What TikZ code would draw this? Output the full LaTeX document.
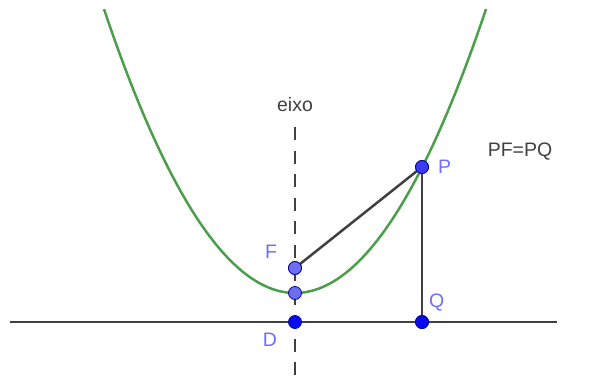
\documentclass[tikz,border=0pt]{standalone}
\usepackage{fontspec}
\setmainfont{Liberation Sans}
\usetikzlibrary{positioning}
\definecolor{parabgreen}{RGB}{76,158,76}
\definecolor{linegrey}{RGB}{64,64,64}
\definecolor{ptdark}{RGB}{10,10,240}
\definecolor{ptlight}{RGB}{110,110,245}
\definecolor{lblblue}{RGB}{110,110,250}

\begin{document}
\begin{tikzpicture}[x=1pt, y=-1pt,
    pt/.style={circle, draw=ptdark!60!black, line width=0.8pt, inner sep=0pt, minimum size=13pt},
    lbl/.style={text=lblblue, font=\fontsize{19.5}{22}\selectfont, inner sep=0pt},
    txt/.style={text=linegrey, font=\fontsize{19.5}{22}\selectfont, inner sep=0pt},
    seg/.style={draw=linegrey, line width=2.5pt},
    parab/.style={draw=parabgreen, line width=2.5pt}]
    \useasboundingbox (0,0) rectangle (592,381);

    % axis and directrix
    \coordinate (axtop) at (295,127);
    \coordinate (axbot) at (295,381);
    \coordinate (dl) at (10,322);
    \coordinate (dr) at (557,322);
    \draw[seg, dash pattern=on 13pt off 10.5pt] (axtop) -- (axbot);
    \draw[seg] (dl) -- (dr);

    % the parabola
    \draw[parab] plot[domain=104:486, samples=120] (\x, {293-((\x-295)/10)^2/1.285});

    % points
    \node[pt, fill=ptlight] (f) at (295,268) {};
    \node[pt, fill=ptlight] (v) at (295,293) {};
    \node[pt, fill=ptdark] (d) at (295,322) {};
    \node[pt, fill=ptdark!80!white] (p) at (422,167) {};
    \node[pt, fill=ptdark] (q) at (422,322) {};

    \draw[seg] (f.center) -- (p.center);
    \draw[seg] (p.center) -- (q.center);
    \node[pt, fill=ptlight] at (f) {};
    \node[pt, fill=ptdark!80!white] at (p) {};
    \node[pt, fill=ptdark] at (q) {};

    % labels
    \node[lbl, above left=4pt and 13pt of f] (fl) {F};
    \node[lbl, below left=6pt and 13pt of d] (dl2) {D};
    \node[lbl, right=9pt of p] (pl) {P};
    \node[lbl, above right=6pt and 2pt of q] (ql) {Q};
    \node[txt, above=15pt of axtop] (eixo) {eixo};
    \node[txt] (eq) at (520,152) {PF=PQ};
\end{tikzpicture}
\end{document}
